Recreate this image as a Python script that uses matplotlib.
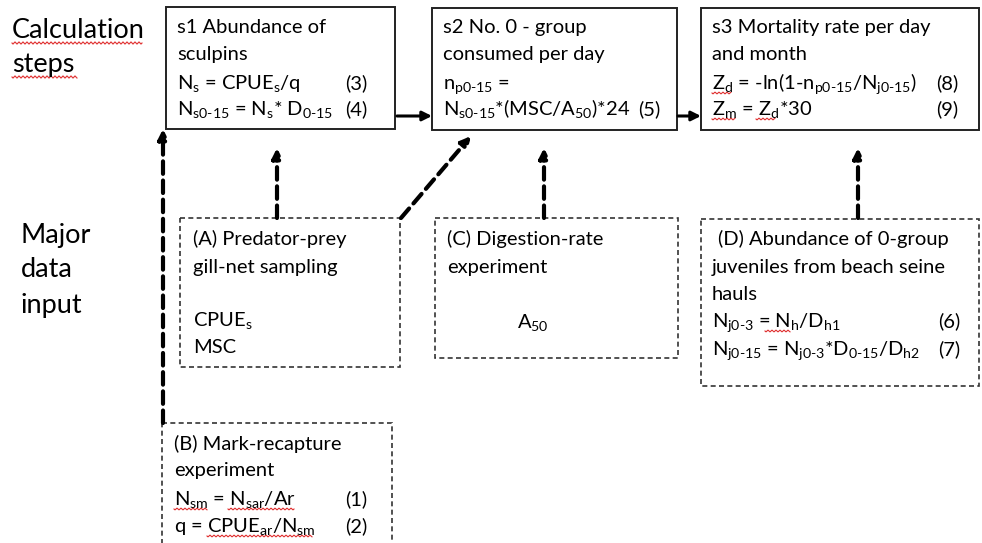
import numpy as np
import matplotlib.pyplot as plt
from matplotlib.patches import Rectangle

plt.rcParams['font.family'] = ['Lato', 'DejaVu Sans']
plt.rcParams['mathtext.fontset'] = 'custom'
plt.rcParams['mathtext.rm'] = 'Lato'
plt.rcParams['mathtext.it'] = 'Lato'
plt.rcParams['mathtext.default'] = 'rm'

# row headings
row_labels = ["Calculation\nsteps", "Major\ndata\ninput"]

# calculation steps (solid boxes): (x0, y0, x1, y1) in pixels
step_boxes = [(166, 7, 395, 129), (432, 8, 677, 130), (701, 8, 979, 130)]
step_lines = [
    ["s1 Abundance of", "sculpins",
     r"N$_\text{s}$ = CPUE$_\text{s}$/q",
     r"N$_\text{s0-15}$ = N$_\text{s}$* D$_\text{0-15}$"],
    ["s2 No. 0 - group", "consumed per day",
     r"n$_\text{p0-15}$ =",
     r"N$_\text{s0-15}$*(MSC/A$_\text{50}$)*24"],
    ["s3 Mortality rate per day", "and month",
     r"Z$_\text{d}$ = -ln(1-n$_\text{p0-15}$/N$_\text{j0-15}$)",
     r"Z$_\text{m}$ = Z$_\text{d}$*30"],
]
step_eqno = [["", "", "(3)", "(4)"], ["", "", "", "(5)"], ["", "", "(8)", "(9)"]]

# data inputs (dashed boxes)
input_boxes = [(180, 218, 400, 367), (162, 423, 392, 560),
               (435, 218, 678, 358), (701, 219, 979, 386)]
input_lines = [
    ["(A) Predator-prey", "gill-net sampling", "", r"CPUE$_\text{s}$", "MSC"],
    ["(B) Mark-recapture", "experiment",
     r"N$_\text{sm}$ = N$_\text{sar}$/Ar", r"q = CPUE$_\text{ar}$/N$_\text{sm}$"],
    ["(C) Digestion-rate", "experiment", "", r"A$_\text{50}$"],
    ["(D) Abundance of 0-group", "juveniles from beach seine", "hauls",
     r"N$_\text{j0-3}$ = N$_\text{h}$/D$_\text{h1}$",
     r"N$_\text{j0-15}$ = N$_\text{j0-3}$*D$_\text{0-15}$/D$_\text{h2}$"],
]
input_eqno = [["", "", "", "", ""], ["", "", "(1)", "(2)"],
              ["", "", "", ""], ["", "", "", "(6)", "(7)"]]

fig = plt.figure(figsize=(9.82, 5.43), dpi=100)
ax = fig.add_axes([0, 0, 1, 1])
ax.set_xlim(0, 982)
ax.set_ylim(543, 0)
ax.axis('off')

fs = 14.5

# headings
ax.text(12, 38, "Calculation", fontsize=19.5, va='baseline')
ax.text(12, 72, "steps", fontsize=19.5, va='baseline')
ax.text(21, 243, "Major", fontsize=19.5, va='baseline')
ax.text(21, 277, "data", fontsize=19.5, va='baseline')
ax.text(21, 313, "input", fontsize=19.5, va='baseline')


def wavy(x0, x1, y, amp=1.0):
    # red spell-check squiggle
    xs = np.linspace(x0, x1, int((x1 - x0) * 2) + 2)
    ax.plot(xs, y + amp * np.sin((xs - x0) * 2 * np.pi / 4.0), color='#e03030', lw=0.8)


wavy(12, 142, 43)
wavy(12, 77, 77)

# solid step boxes
step_text_x = [177, 443, 712]
step_eq_x = [345, 638, 936]
baselines = [33, 60, 89, 115]
for (x0, y0, x1, y1), lines, eqs, tx, ex in zip(step_boxes, step_lines, step_eqno,
                                               step_text_x, step_eq_x):
    ax.add_patch(Rectangle((x0, y0), x1 - x0, y1 - y0, fill=False, lw=1.4, ec='#222222'))
    for ln, eq, yb in zip(lines, eqs, baselines):
        ax.text(tx, yb, ln, fontsize=fs, va='baseline')
        if eq:
            ax.text(ex, yb, eq, fontsize=fs, va='baseline')

# spelling marks on Z's
wavy(712, 731, 93, 0.8)
wavy(712, 735, 119, 0.8)
wavy(756, 775, 119, 0.8)

# dashed input boxes
input_text_x = [193, 174, 447, 712]
input_eq_x = [0, 345, 0, 938]
input_baselines = [
    [245, 273, 300, 326, 353],
    [450, 476, 505, 532],
    [245, 273, 300, 328],
    [245, 273, 300, 327, 355],
]
for (x0, y0, x1, y1), lines, eqs, tx, ex, bl in zip(input_boxes, input_lines, input_eqno,
                                                   input_text_x, input_eq_x, input_baselines):
    ax.add_patch(Rectangle((x0, y0), x1 - x0, y1 - y0, fill=False, lw=1.2,
                           ec='#333333', ls=(0, (3, 2))))
    for i, (ln, eq, yb) in enumerate(zip(lines, eqs, bl)):
        xx = tx
        if ln.startswith("A$"):
            xx = 517
        if ln.startswith("(D)"):
            xx = 718
        ax.text(xx, yb, ln, fontsize=fs, va='baseline')
        if eq:
            ax.text(ex, yb, eq, fontsize=fs, va='baseline')

# spelling marks in (B) and (D)
wavy(174, 207, 509, 0.8)
wavy(228, 294, 509, 0.8)
wavy(207, 312, 536, 0.8)
wavy(765, 790, 331, 0.8)

# arrows: solid between steps
solid_arrows = [((397, 116), (432, 116)), ((678, 116), (701, 116))]
for (xa, ya), (xb, yb) in solid_arrows:
    ax.annotate("", xy=(xb, yb), xytext=(xa, ya),
                arrowprops=dict(arrowstyle='-|>', lw=2.2, color='black',
                                mutation_scale=14, shrinkA=0, shrinkB=0))

# dashed arrows from inputs to steps
dashed_arrows = [((163, 423), (163, 129)), ((277, 218), (277, 148)),
                 ((401, 218), (471, 136)), ((544, 218), (544, 148)),
                 ((858, 218), (858, 148))]
for (xa, ya), (xb, yb) in dashed_arrows:
    ax.annotate("", xy=(xb, yb), xytext=(xa, ya),
                arrowprops=dict(arrowstyle='-|>', lw=3, color='black', ls=(0, (3, 1.6)),
                                mutation_scale=14, shrinkA=0, shrinkB=0))

fig.savefig("out.png", dpi=100)
